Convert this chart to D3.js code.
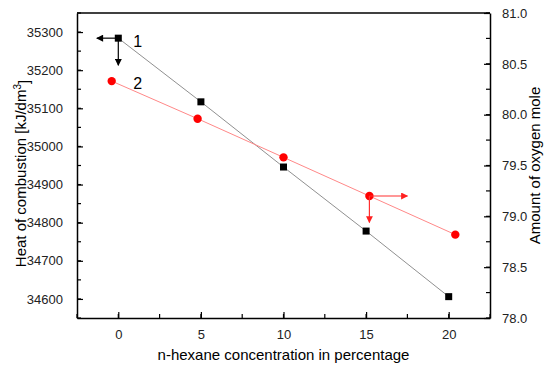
<!DOCTYPE html>
<html>
<head>
<meta charset="utf-8">
<script src="https://cdn.jsdelivr.net/npm/d3@7"></script>
<style>
  body { margin: 0; background: #fff; }
  text { font-family: "Liberation Sans", Arial, sans-serif; }
</style>
</head>
<body>
<div id="chart"></div>
<script>
// series 1: heat of combustion (left axis), black squares
var xHeat = [0, 5, 10, 15, 20];
var heat = [35284, 35117, 34946, 34778, 34606];
// series 2: amount of oxygen mole (right axis), red circles
var xOxy = [-0.4, 4.8, 10, 15.2, 20.4];
var oxygen = [80.33, 79.96, 79.58, 79.20, 78.82];

var xTicks = [0, 5, 10, 15, 20];
var leftTicks = [34600, 34700, 34800, 34900, 35000, 35100, 35200, 35300];
var rightTicks = [78.0, 78.5, 79.0, 79.5, 80.0, 80.5, 81.0];

var margins = { top: 13, right: 60, bottom: 50, left: 77 },
  width = 550 - margins.left - margins.right,
  height = 368 - margins.top - margins.bottom;

var svg = d3.select("#chart")
  .append("svg")
  .attr("width", 550)
  .attr("height", 368)
  .append("g")
  .attr("transform", "translate(" + margins.left + "," + margins.top + ")");

var x = d3.scaleLinear().domain([-2.5, 22.5]).range([0, width]);
var yL = d3.scaleLinear().domain([34550, 35350]).range([height, 0]);
var yR = d3.scaleLinear().domain([78, 81]).range([height, 0]);

var defs = svg.append("defs");
function marker(id, color) {
  defs.append("marker")
    .attr("id", id)
    .attr("viewBox", "0 0 10 10")
    .attr("refX", 9).attr("refY", 5)
    .attr("markerWidth", 9).attr("markerHeight", 7)
    .attr("markerUnits", "userSpaceOnUse")
    .attr("orient", "auto")
    .append("path").attr("d", "M0,0 L10,5 L0,10 z").attr("fill", color);
}
marker("arrBlack", "#000");
marker("arrRed", "#ff2020");

// minor ticks (inward)
var xMinor = d3.range(-2.5, 22.6, 2.5);
var lMinor = d3.range(34550, 35351, 50);
var rMinor = d3.range(78, 81.01, 0.25);

var axisG = svg.append("g").attr("stroke", "#000").attr("stroke-width", 1.2);
xMinor.forEach(function (v) {
  axisG.append("line").attr("x1", x(v)).attr("x2", x(v)).attr("y1", height).attr("y2", height - 4);
});
lMinor.forEach(function (v) {
  axisG.append("line").attr("x1", 0).attr("x2", 4).attr("y1", yL(v)).attr("y2", yL(v));
});
rMinor.forEach(function (v) {
  axisG.append("line").attr("x1", width).attr("x2", width - 4).attr("y1", yR(v)).attr("y2", yR(v));
});

// major axes
svg.append("g")
  .attr("transform", "translate(0," + height + ")")
  .call(d3.axisBottom(x).tickValues(xTicks).tickSizeInner(-6).tickSizeOuter(0).tickPadding(12))
  .style("font-size", "13px");

svg.append("g")
  .call(d3.axisLeft(yL).tickValues(leftTicks).tickFormat(d3.format("d")).tickSizeInner(-6).tickSizeOuter(0).tickPadding(14))
  .style("font-size", "13px");

svg.append("g")
  .attr("transform", "translate(" + width + ",0)")
  .call(d3.axisRight(yR).tickValues(rightTicks).tickFormat(d3.format(".1f")).tickSizeInner(-6).tickSizeOuter(0).tickPadding(12))
  .style("font-size", "13px");

svg.selectAll(".domain").attr("stroke-width", 1.5);
svg.selectAll(".tick line").attr("stroke-width", 1.2);
svg.selectAll(".tick text").attr("fill", "#222");

// top border
svg.append("line").attr("x1", 0).attr("x2", width).attr("y1", 0).attr("y2", 0)
  .attr("stroke", "#000").attr("stroke-width", 1.5);

// lines
svg.append("path")
  .datum(xHeat.map(function (d, i) { return [d, heat[i]]; }))
  .attr("fill", "none").attr("stroke", "#909090").attr("stroke-width", 1)
  .attr("d", d3.line().x(function (d) { return x(d[0]); }).y(function (d) { return yL(d[1]); }));

svg.append("path")
  .datum(xOxy.map(function (d, i) { return [d, oxygen[i]]; }))
  .attr("fill", "none").attr("stroke", "#ff8888").attr("stroke-width", 1)
  .attr("d", d3.line().x(function (d) { return x(d[0]); }).y(function (d) { return yR(d[1]); }));

// markers
svg.selectAll(".sq").data(xHeat).enter().append("rect")
  .attr("x", function (d) { return x(d) - 3.5; })
  .attr("y", function (d, i) { return yL(heat[i]) - 3.5; })
  .attr("width", 7).attr("height", 7).attr("fill", "#000");

svg.selectAll(".ci").data(xOxy).enter().append("circle")
  .attr("cx", function (d) { return x(d); })
  .attr("cy", function (d, i) { return yR(oxygen[i]); })
  .attr("r", 4.2).attr("fill", "#ff0000");

// arrows pointing to axes
svg.append("line")
  .attr("x1", x(xHeat[0])).attr("y1", yL(heat[0]))
  .attr("x2", x(-1.3)).attr("y2", yL(heat[0]))
  .attr("stroke", "#000").attr("stroke-width", 1.2).attr("marker-end", "url(#arrBlack)");
svg.append("line")
  .attr("x1", x(xHeat[0])).attr("y1", yL(heat[0]))
  .attr("x2", x(xHeat[0])).attr("y2", yL(35213))
  .attr("stroke", "#000").attr("stroke-width", 1.2).attr("marker-end", "url(#arrBlack)");

svg.append("line")
  .attr("x1", x(xOxy[3])).attr("y1", yR(oxygen[3]))
  .attr("x2", x(17.5)).attr("y2", yR(oxygen[3]))
  .attr("stroke", "#ff3030").attr("stroke-width", 1.2).attr("marker-end", "url(#arrRed)");
svg.append("line")
  .attr("x1", x(xOxy[3])).attr("y1", yR(oxygen[3]))
  .attr("x2", x(xOxy[3])).attr("y2", yR(78.94))
  .attr("stroke", "#ff3030").attr("stroke-width", 1.2).attr("marker-end", "url(#arrRed)");

// series labels
svg.append("text").attr("x", x(0.9)).attr("y", yL(35284) + 9)
  .text("1").style("font-size", "16px");
svg.append("text").attr("x", x(0.9)).attr("y", yR(80.33) + 8)
  .text("2").style("font-size", "16px");

// axis titles
svg.append("text")
  .attr("x", width / 2).attr("y", height + 42)
  .style("text-anchor", "middle").style("font-size", "15px")
  .text("n-hexane concentration in percentage");

var lt = svg.append("text")
  .attr("transform", "translate(" + (-51) + "," + (height / 2 + 8) + ") rotate(-90)")
  .style("text-anchor", "middle").style("font-size", "15px");
lt.append("tspan").text("Heat of combustion [kJ/dm");
lt.append("tspan").attr("dy", "-0.5em").style("font-size", "10px").text("3");
lt.append("tspan").attr("dy", "0.5em").text("]");

svg.append("text")
  .attr("transform", "translate(" + (width + 50) + "," + (height / 2) + ") rotate(-90)")
  .style("text-anchor", "middle").style("font-size", "15px")
  .text("Amount of oxygen mole");
</script>
</body>
</html>
